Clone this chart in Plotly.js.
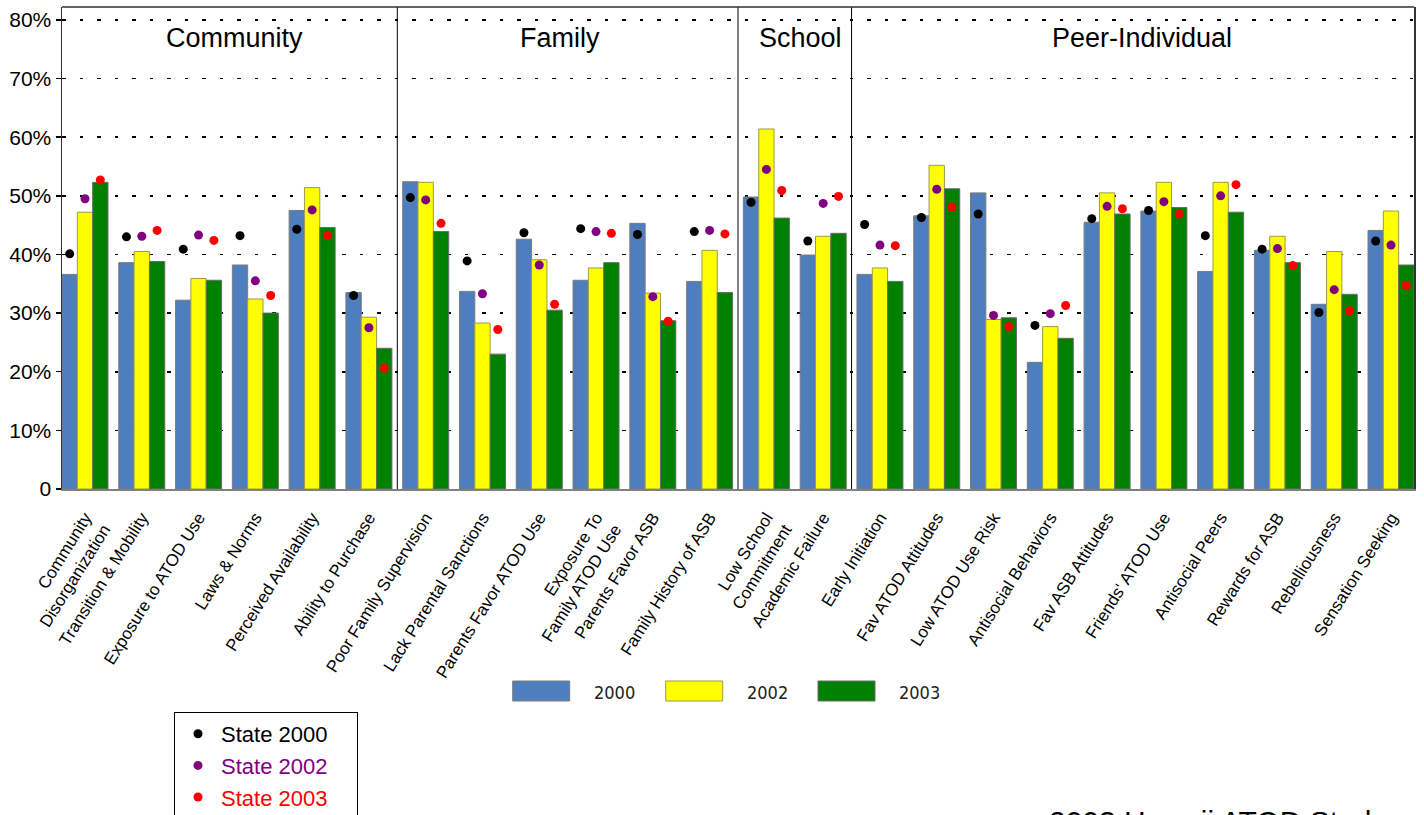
<!DOCTYPE html>
<html><head><meta charset="utf-8">
<script src="https://cdn.plot.ly/plotly-3.0.1.min.js"></script>
<style>html,body{margin:0;padding:0;overflow:hidden;background:#fff}</style>
</head><body><div id="chart" style="width:1424px;height:860px"></div>
<script>
const categories = [
  "Community<br>Disorganization", "Transition & Mobility", "Exposure to ATOD Use", "Laws & Norms",
  "Perceived Availability", "Ability to Purchase",
  "Poor Family Supervision", "Lack Parental Sanctions", "Parents Favor ATOD Use",
  "Exposure To<br>Family ATOD Use", "Parents Favor ASB", "Family History of ASB",
  "Low School<br>Commitment", "Academic Failure",
  "Early Initiation", "Fav ATOD Attitudes", "Low ATOD Use Risk", "Antisocial Behaviors",
  "Fav ASB Attitudes", "Friends' ATOD Use", "Antisocial Peers", "Rewards for ASB",
  "Rebelliousness", "Sensation Seeking"
];
const sections = ["Community", "Family", "School", "Peer-Individual"];
const sectionSizes = [6, 6, 2, 10];

const local2000 = [36.6, 38.6, 32.2, 38.2, 47.5, 33.5, 52.4, 33.7, 42.6, 35.6, 45.3, 35.4, 49.8, 39.9, 36.6, 46.6, 50.5, 21.6, 45.5, 47.4, 37.1, 40.7, 31.5, 44.1];
const local2002 = [47.2, 40.5, 35.9, 32.4, 51.4, 29.3, 52.3, 28.3, 39.1, 37.7, 33.4, 40.7, 61.4, 43.1, 37.7, 55.2, 28.9, 27.7, 50.5, 52.3, 52.3, 43.1, 40.5, 47.4];
const local2003 = [52.3, 38.8, 35.6, 30.0, 44.6, 24.0, 43.9, 23.0, 30.5, 38.6, 28.7, 33.5, 46.2, 43.6, 35.4, 51.2, 29.2, 25.7, 46.9, 48.0, 47.2, 38.6, 33.2, 38.2];
const state2000 = [40.1, 43.0, 40.9, 43.2, 44.3, 33.0, 49.7, 38.9, 43.7, 44.4, 43.4, 43.9, 48.9, 42.3, 45.1, 46.3, 46.9, 27.9, 46.1, 47.5, 43.2, 40.9, 30.1, 42.3];
const state2002 = [49.5, 43.1, 43.3, 35.5, 47.6, 27.5, 49.3, 33.3, 38.2, 43.9, 32.8, 44.1, 54.5, 48.7, 41.6, 51.1, 29.6, 29.9, 48.2, 49.0, 50.0, 41.0, 34.0, 41.6];
const state2003 = [52.7, 44.1, 42.4, 33.0, 43.2, 20.6, 45.3, 27.2, 31.5, 43.6, 28.6, 43.5, 50.9, 49.9, 41.5, 48.1, 27.7, 31.3, 47.8, 46.9, 51.9, 38.1, 30.4, 34.7];

const barYears = ["2000", "2002", "2003"];
const stateNames = ["State 2000", "State 2002", "State 2003"];
const yTickVals = [0, 10, 20, 30, 40, 50, 60, 70, 80];
const yTickText = ["0", "10%", "20%", "30%", "40%", "50%", "60%", "70%", "80%"];
const footer = "2003 Hawaii ATOD Study";

// ---- styling / layout ----
const W = 1424, H = 860;
const M = {l: 62, r: 10, t: 7, b: 371};
const plotW = W - M.l - M.r, plotH = H - M.t - M.b;
const pxX = px => (px - M.l) / plotW;
const pxY = py => (H - M.b - py) / plotH;

const barColors = ["#4F7EBF", "#FFFF00", "#008000"];
const barLines = ["#7a7a7a", "#9c9c4a", "#6a6a6a"];
const dotColors = ["#000000", "#800080", "#FF0000"];
const bargap = 0.19;
const barW = (1 - bargap) / 3;
const idx = categories.map((_, i) => i);

const locals = [local2000, local2002, local2003];
const states = [state2000, state2002, state2003];

const traces = [];
locals.forEach((vals, k) => {
  traces.push({
    type: "bar", x: idx, y: vals, name: barYears[k], showlegend: false,
    marker: {color: barColors[k], line: {color: barLines[k], width: 1}},
    hoverinfo: "skip"
  });
});
states.forEach((vals, k) => {
  traces.push({
    type: "scatter", mode: "markers",
    x: idx.map(i => i + (k - 1) * barW), y: vals,
    name: '<span style="color:' + dotColors[k] + '">' + stateNames[k] + '</span>\u00A0\u00A0\u00A0\u00A0',
    marker: {color: dotColors[k], size: 9, symbol: "circle"},
    hoverinfo: "skip"
  });
});

// section dividers & labels
const shapes = [];
const annotations = [];
const labelShift = [0.08, -0.14, 0.1, 0.16];
let start = 0;
const xmin = -0.5 + bargap / 2, xmax = categories.length - 0.5 - bargap / 2;
sectionSizes.forEach((n, s) => {
  const left = s === 0 ? xmin : start - 0.5;
  const end = start + n;
  const right = s === sectionSizes.length - 1 ? xmax : end - 0.5;
  if (s < sectionSizes.length - 1) {
    shapes.push({type: "line", xref: "x", yref: "paper", x0: end - 0.5, x1: end - 0.5, y0: 0, y1: 1,
      line: {color: "#000", width: 1}, layer: "above"});
  }
  annotations.push({xref: "x", yref: "paper", x: (left + right) / 2 + labelShift[s], y: pxY(38),
    text: sections[s], showarrow: false, xanchor: "center", yanchor: "middle",
    font: {family: "Liberation Sans, Arial, sans-serif", size: 27, color: "#000"}});
  start = end;
});
// top border
shapes.push({type: "line", xref: "paper", yref: "paper", x0: 0, x1: 1, y0: 1, y1: 1,
  line: {color: "#333", width: 1.5}, layer: "above"});

// bar legend (custom swatches)
const swLeft = [512.7, 665.7, 818];
swLeft.forEach((lx, k) => {
  shapes.push({type: "rect", xref: "paper", yref: "paper",
    x0: pxX(lx), x1: pxX(lx + 57), y0: pxY(701), y1: pxY(681),
    fillcolor: barColors[k], line: {color: barLines[k], width: 1}});
  annotations.push({xref: "paper", yref: "paper", x: pxX(lx + 79), y: pxY(692),
    text: barYears[k], showarrow: false, xanchor: "left", yanchor: "middle",
    font: {family: "Liberation Sans Narrow, DejaVu Sans Condensed, Arial Narrow, sans-serif", size: 18, color: "#222"}});
});

// footer (cut by the window bottom, as in the reference)
annotations.push({xref: "paper", yref: "paper", x: pxX(1047), y: pxY(803),
  text: footer, showarrow: false, xanchor: "left", yanchor: "top",
  font: {family: "Liberation Sans, Arial, sans-serif", size: 30, color: "#000"}});

const layout = {
  width: W, height: H, margin: M,
  paper_bgcolor: "#fff", plot_bgcolor: "#fff",
  barmode: "group", bargap: bargap, bargroupgap: 0,
  showlegend: true,
  legend: {x: pxX(174), y: pxY(712), xanchor: "left", yanchor: "top",
    bordercolor: "#000", borderwidth: 1, bgcolor: "#fff",
    font: {family: "Liberation Sans, Arial, sans-serif", size: 22, color: "#000"},
    tracegroupgap: 0, itemwidth: 36},
  xaxis: {
    type: "linear", range: [xmin, xmax], tickmode: "array", tickvals: idx, ticktext: categories,
    tickangle: -58, ticks: "", showgrid: false, zeroline: false, ticklabelstandoff: 10,
    showline: true, linecolor: "#808080", linewidth: 2,
    tickfont: {family: "Liberation Sans, Arial, sans-serif", size: 17, color: "#000"}
  },
  yaxis: {
    range: [0, 82.2], tickmode: "array", tickvals: yTickVals, ticktext: yTickText,
    ticks: "outside", ticklen: 5, tickcolor: "#000", tickwidth: 1.5,
    showgrid: true, gridcolor: "#000", gridwidth: 1.6, griddash: "3.5px,14px",
    zeroline: false, showline: true, linecolor: "#333", linewidth: 1.5, mirror: true,
    tickfont: {family: "Liberation Sans, Arial, sans-serif", size: 21, color: "#000"}
  },
  shapes: shapes, annotations: annotations
};

Plotly.newPlot("chart", traces, layout, {staticPlot: true, displayModeBar: false});
</script></body></html>
